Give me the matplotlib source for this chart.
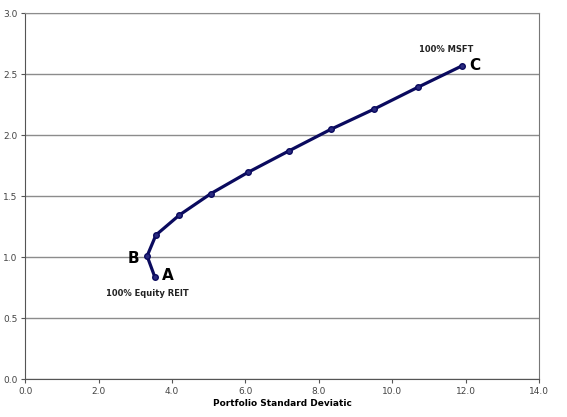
import matplotlib
matplotlib.use("Agg")
import matplotlib.pyplot as plt

# portfolio frontier: standard deviation vs expected return
std_dev = [3.53, 3.32, 3.56, 4.20, 5.06, 6.07, 7.18, 8.33, 9.51, 10.69, 11.91]
exp_return = [0.836, 1.008, 1.18, 1.344, 1.52, 1.694, 1.869, 2.047, 2.213, 2.39, 2.568]

x_ticks = [0, 2, 4, 6, 8, 10, 12, 14]
y_ticks = [0.0, 0.5, 1.0, 1.5, 2.0, 2.5, 3.0]

fig = plt.figure(figsize=(5.67, 4.17), dpi=100)
ax = fig.add_axes([0.0446, 0.0911, 0.906, 0.8777])

ax.plot(std_dev, exp_return, color="#0a0a5e", lw=2.3, marker="o", ms=4,
        mfc="#2a2a80", mec="#0a0a5e", zorder=3)

ax.set_xlim(0, 14)
ax.set_ylim(0, 3)
ax.set_xticks(x_ticks)
ax.set_xticklabels([f"{v:.1f}" for v in x_ticks])
ax.set_yticks(y_ticks)
ax.set_yticklabels([f"{v:.1f}" for v in y_ticks])
ax.tick_params(labelsize=6.5, labelcolor="#444444", color="#555555", length=3, width=0.8, pad=2.5)

ax.yaxis.grid(True, color="#8c8c8c", lw=1.0)
ax.set_axisbelow(True)
for side in ["left", "bottom"]:
    ax.spines[side].set_color("#555555")
ax.spines["right"].set_color("#777777")
ax.spines["top"].set_color("#8c8c8c")

ax.set_xlabel("Portfolio Standard Deviatic", fontsize=6.5, fontweight="bold", labelpad=2.5)

ax.text(std_dev[-1] - 0.45, 2.70, "100% MSFT", fontsize=6, fontweight="bold", ha="center", va="center", color="#222222")
ax.text(std_dev[-1] + 0.2, exp_return[-1], "C", fontsize=11, fontweight="bold", ha="left", va="center")
ax.text(std_dev[1] - 0.22, exp_return[1] - 0.02, "B", fontsize=11, fontweight="bold", ha="right", va="center")
ax.text(std_dev[0] + 0.2, exp_return[0] + 0.01, "A", fontsize=11, fontweight="bold", ha="left", va="center")
ax.text(std_dev[0] - 0.2, 0.70, "100% Equity REIT", fontsize=6, fontweight="bold", ha="center", va="center", color="#222222")

fig.savefig("out.png", dpi=100)
